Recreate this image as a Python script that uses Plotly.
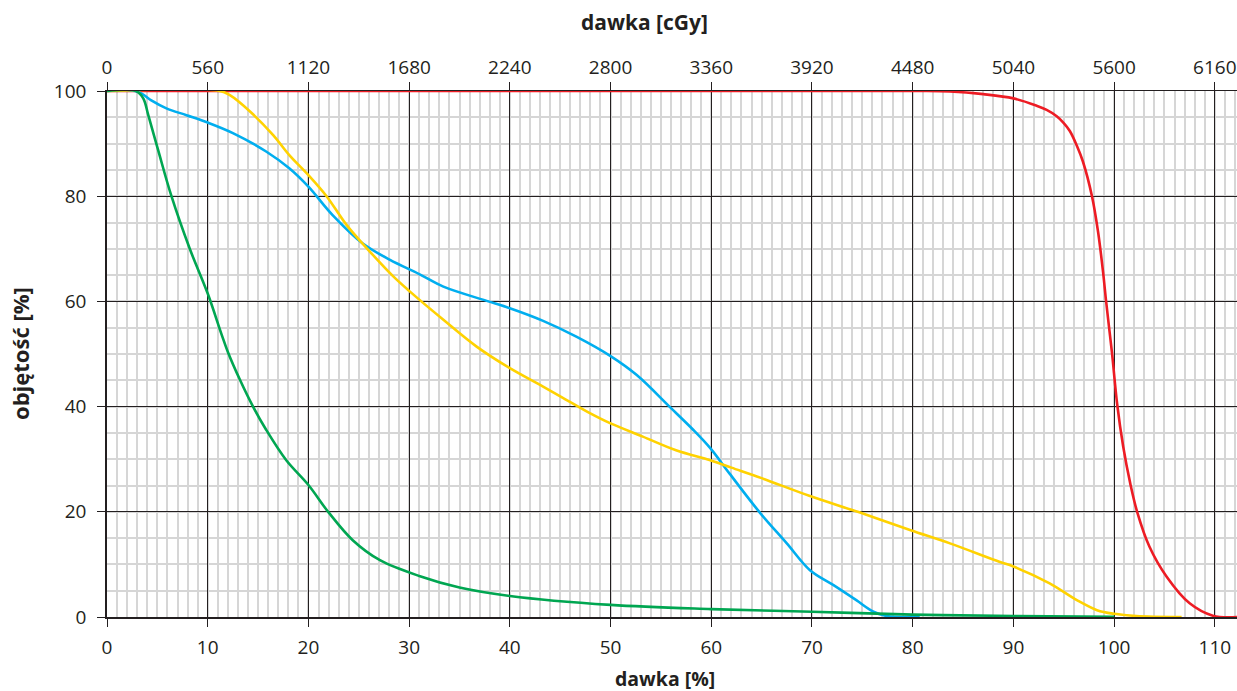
import plotly.graph_objects as go

# ---- data (dose in % of prescribed dose, volume in %) ----
red_x = [0, 80, 83.7, 87.0, 90.0, 92.3, 93.3, 94.3, 95.0, 95.6, 96.3, 96.9, 97.8, 98.4, 98.9, 99.2,
         99.5, 99.8, 100.3, 100.9, 101.6, 102.3, 103.5, 105.2, 107.5, 109.8, 112.2]
red_y = [100, 100, 99.9, 99.4, 98.6, 97.2, 96.4, 95.2, 93.9, 92.4, 89.6, 86.6, 80.0, 73.3, 65.6, 60.1,
         55.0, 50.0, 40.5, 32.4, 25.4, 19.9, 13.4, 7.7, 2.6, 0.25, 0]

blue_x = [0, 2.8, 3.6, 4.4, 5.9, 7.9, 10.0, 12.5, 15.8, 18.1, 20.0, 22.4, 25.4, 28.1, 31.0, 33.4,
          37.7, 40.0, 43.3, 46.6, 50.0, 52.6, 55.9, 58.2, 59.9, 61.8, 64.8, 67.5, 69.8, 72.1,
          74.4, 76.1, 77.4, 80.7]
blue_y = [100, 100, 99.3, 98.2, 96.7, 95.4, 94.0, 92.0, 88.5, 85.3, 81.8, 76.4, 71.0, 67.9, 65.2, 62.8,
          60.1, 58.7, 56.3, 53.3, 49.6, 46.0, 39.9, 35.6, 32.1, 27.3, 19.9, 14.0, 8.9, 6.1,
          3.2, 1.0, 0.2, 0]

yellow_x = [0, 11.2, 12.2, 14.2, 16.5, 18.1, 20.0, 21.8, 23.8, 25.8, 28.4, 30.0, 33.4, 36.7, 40.0,
            43.3, 45.6, 47.8, 50.0, 53.2, 56.5, 59.9, 62.0, 65.0, 69.8, 74.7, 79.8, 83.7, 88.6, 90.0,
            93.6, 96.3, 98.3, 100.0, 102.2, 106.7]
yellow_y = [100, 100, 99.2, 96.1, 91.6, 87.8, 84.0, 80.0, 74.5, 70.1, 64.8, 62.0, 56.5, 51.4, 47.3,
            43.8, 41.3, 38.9, 36.8, 34.3, 31.7, 29.8, 28.4, 26.4, 23.0, 19.9, 16.5, 14.0, 10.5, 9.6,
            6.4, 3.2, 1.3, 0.6, 0.2, 0]

green_x = [0, 2.9, 3.6, 4.1, 5.1, 6.4, 8.2, 10.0, 11.4, 12.0, 13.2, 14.5, 15.8, 17.8, 20.0, 22.0,
           24.4, 27.1, 31.0, 35.0, 40.0, 50.0, 60.0, 70.0, 80.0, 90.0, 100.0]
green_y = [100, 100, 98.6, 95.4, 88.6, 80.0, 70.1, 61.5, 53.6, 50.4, 45.1, 40.0, 35.6, 29.8, 25.1, 19.9,
           14.6, 10.8, 7.8, 5.6, 4.0, 2.3, 1.5, 1.0, 0.45, 0.2, 0.05]

x_ticks = [0, 10, 20, 30, 40, 50, 60, 70, 80, 90, 100, 110]
y_ticks = [0, 20, 40, 60, 80, 100]
cgy_ticks = [0, 560, 1120, 1680, 2240, 2800, 3360, 3920, 4480, 5040, 5600, 6160]
CGY_PER_PERCENT = 56.0

X_MAX = 112.2

FONT = "Open Sans"
TXT = "#231f20"
MAJOR = "#231f20"
MINOR = "#d6d6d6"
TICK_SIZE = 19

fig = go.Figure()

series = [
    (red_x, red_y, "#ed1c24"),
    (blue_x, blue_y, "#00aeef"),
    (yellow_x, yellow_y, "#ffd200"),
    (green_x, green_y, "#00a651"),
]
for xs, ys, col in series:
    fig.add_trace(go.Scatter(
        x=xs, y=ys, mode="lines",
        line=dict(color=col, width=2.6, shape="spline", smoothing=1.0),
        cliponaxis=False, showlegend=False, hoverinfo="skip",
    ))

# invisible trace for the top (cGy) axis
fig.add_trace(go.Scatter(x=[0, X_MAX], y=[0, 0], xaxis="x2", mode="lines",
                         line=dict(width=0), showlegend=False, hoverinfo="skip"))

fig.update_layout(
    width=1237, height=691,
    margin=dict(l=107, r=0, t=91, b=74),
    paper_bgcolor="white", plot_bgcolor="white",
    font=dict(family=FONT, size=TICK_SIZE, color=TXT),
    xaxis=dict(
        range=[0, X_MAX], tickvals=x_ticks, ticks="outside", ticklen=8, tickcolor=MAJOR,
        tickwidth=1.3, showline=True, linecolor=MAJOR, linewidth=1.5,
        showgrid=True, gridcolor=MAJOR, gridwidth=1.2, zeroline=False,
        minor=dict(dtick=1, showgrid=True, gridcolor=MINOR, gridwidth=1.6),
        tickfont=dict(family=FONT, size=TICK_SIZE, color=TXT), ticklabelstandoff=4,
    ),
    xaxis2=dict(
        range=[0, X_MAX], overlaying="x", side="top",
        tickvals=[c / CGY_PER_PERCENT for c in cgy_ticks],
        ticktext=[str(c) for c in cgy_ticks],
        ticks="outside", ticklen=8, tickcolor=MAJOR, tickwidth=1.3,
        showline=True, linecolor=MAJOR, linewidth=1.3, showgrid=False, zeroline=False,
        tickfont=dict(family=FONT, size=TICK_SIZE, color=TXT), ticklabelstandoff=0,
    ),
    yaxis=dict(
        range=[0, 100], tickvals=y_ticks, ticks="outside", ticklen=8, tickcolor=MAJOR,
        tickwidth=1.3, showline=True, linecolor=MAJOR, linewidth=1.5,
        showgrid=True, gridcolor=MAJOR, gridwidth=1.2, zeroline=False,
        minor=dict(dtick=5, showgrid=True, gridcolor=MINOR, gridwidth=1.6),
        tickfont=dict(family=FONT, size=TICK_SIZE, color=TXT), ticklabelstandoff=7,
    ),
    annotations=[
        dict(text="<b>dawka [cGy]</b>", xref="paper", yref="paper", x=0.476, y=1.131,
             xanchor="center", yanchor="middle", showarrow=False,
             font=dict(family=FONT, size=21, color=TXT)),
        dict(text="<b>dawka [%]</b>", xref="paper", yref="paper", x=0.494, y=-0.116,
             xanchor="center", yanchor="middle", showarrow=False,
             font=dict(family=FONT, size=19.5, color=TXT)),
        dict(text="<b>objętość [%]</b>", xref="paper", yref="paper", x=-0.077, y=0.502,
             xanchor="center", yanchor="middle", showarrow=False, textangle=-90,
             font=dict(family=FONT, size=22, color=TXT)),
    ],
)

fig.write_html("out.html", config={"displayModeBar": False},
               post_script="document.body.style.margin='0';document.body.style.overflow='hidden';")
